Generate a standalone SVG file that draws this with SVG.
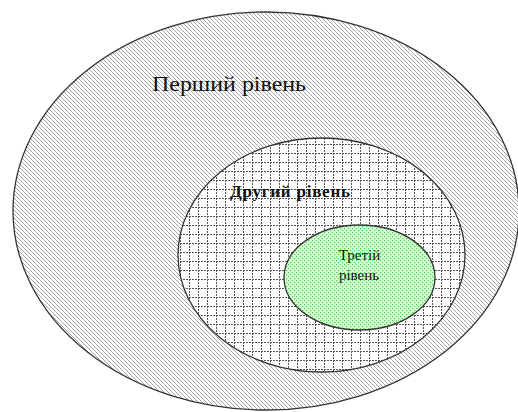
<svg xmlns="http://www.w3.org/2000/svg" width="518" height="412" viewBox="0 0 518 412">
  <style>
    .edge { stroke: #333; stroke-width: 1.3; }
    .label { font-family: "Liberation Serif", "DejaVu Serif", serif; fill: #111; }
  </style>
  <defs>
    <!-- wide downward diagonal hatch -->
    <pattern id="hatch" width="4" height="4" patternUnits="userSpaceOnUse">
      <rect width="4" height="4" fill="#fff"/>
      <path d="M-1,-1 L5,5 M-1,3 L1,5 M3,-1 L5,1" stroke="#a4a4a4" stroke-width="1"/>
    </pattern>
    <!-- dotted grid -->
    <pattern id="grid" width="9" height="9" patternUnits="userSpaceOnUse">
      <rect width="9" height="9" fill="#fff"/>
      <path d="M0,0.5 H9 M0.5,0 V9" stroke="#555" stroke-width="1" stroke-dasharray="2 1"/>
    </pattern>
    <!-- green dots -->
    <pattern id="dots" width="4" height="4" patternUnits="userSpaceOnUse">
      <rect width="4" height="4" fill="#dafcda"/>
      <rect x="0" y="0" width="1.2" height="1.2" fill="#33e633"/>
      <rect x="2" y="2" width="1.2" height="1.2" fill="#33e633"/>
    </pattern>
  </defs>

  <g id="level1">
    <ellipse cx="266" cy="211" rx="253" ry="199" fill="url(#hatch)" class="edge"/>
    <text class="label" x="152" y="91" font-size="22" textLength="154" lengthAdjust="spacingAndGlyphs">Перший рівень</text>
  </g>

  <g id="level2">
    <ellipse cx="321.5" cy="255" rx="143.5" ry="117" fill="url(#grid)" class="edge"/>
    <text class="label" x="230" y="197" font-size="17" font-weight="bold" textLength="120" lengthAdjust="spacing">Другий рівень</text>
  </g>

  <g id="level3">
    <ellipse cx="359.5" cy="277.5" rx="75.5" ry="52.5" fill="url(#dots)" class="edge" stroke-width="1"/>
    <text class="label" x="359.5" y="260" font-size="15" text-anchor="middle">Третій</text>
    <text class="label" x="359" y="280" font-size="15" text-anchor="middle">рівень</text>
  </g>

  <g id="connectors"/>
</svg>
